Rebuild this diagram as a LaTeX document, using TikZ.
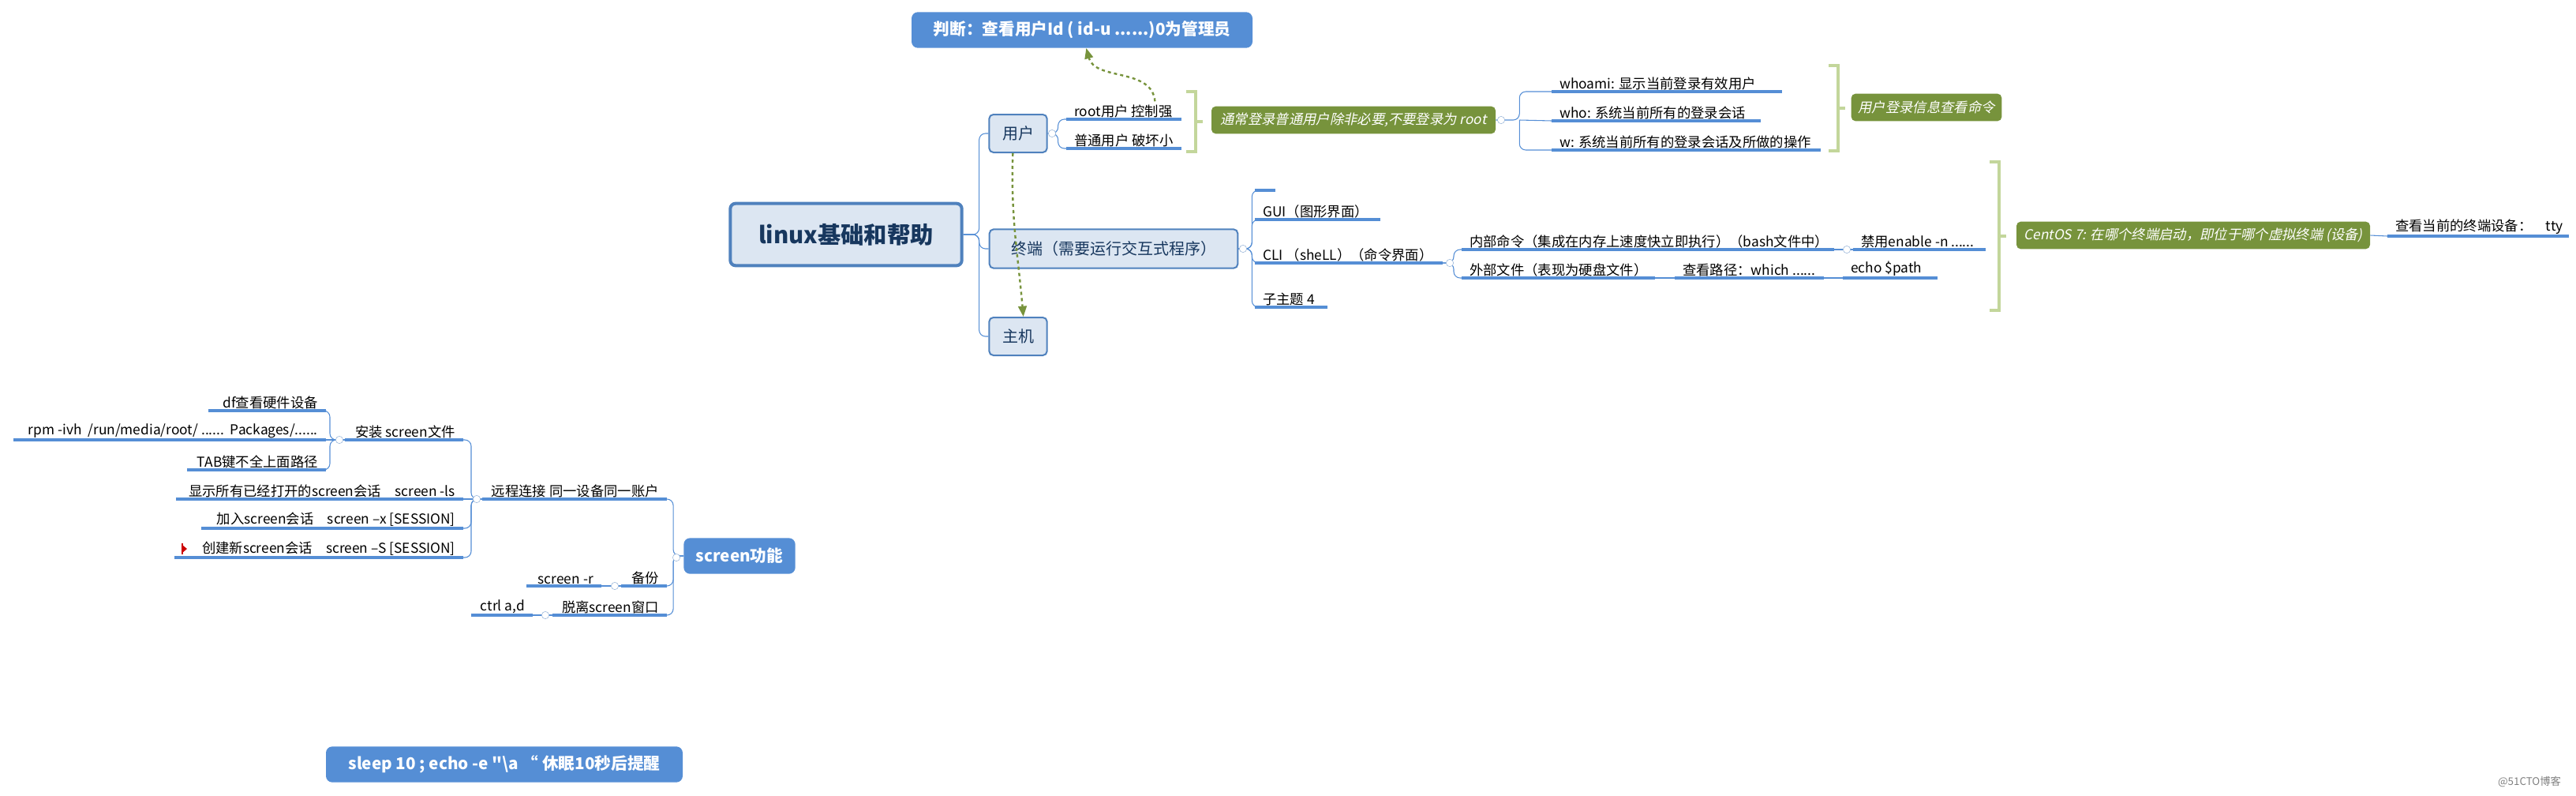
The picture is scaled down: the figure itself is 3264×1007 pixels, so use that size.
\documentclass[tikz,border=0pt]{standalone}
\usepackage{fontspec}
\setmainfont{Noto Sans CJK SC}
\newfontfamily\slantfont[FakeSlant=0.2]{Noto Sans CJK SC}
\newfontfamily\rawfont{Noto Sans CJK SC}
\usetikzlibrary{arrows.meta}
\definecolor{lineblue}{HTML}{558ED5}
\definecolor{boxfill}{HTML}{DCE6F2}
\definecolor{boxline}{HTML}{4F81BD}
\definecolor{olive}{HTML}{77933C}
\definecolor{bracegreen}{HTML}{C3D69B}
\definecolor{titleblue}{HTML}{17375E}

\tikzset{
  topic/.style={inner sep=3pt,font=\fontsize{13}{15}\selectfont},
  uline/.style={lineblue,line width=2.6pt},
  conn/.style={lineblue,line width=0.8pt,rounded corners=6pt},
  mainbox/.style={draw=boxline,fill=boxfill,line width=3pt,rounded corners=5pt,
    text=titleblue,font=\fontsize{22}{24}\selectfont\bfseries},
  catbox/.style={draw=boxline,fill=boxfill,line width=1.5pt,rounded corners=4pt,
    text=titleblue,font=\fontsize{15}{17}\selectfont},
  headbox/.style={fill=lineblue,rounded corners=6pt,text=white,
    font=\fontsize{15.5}{18}\selectfont\bfseries},
  notebox/.style={fill=olive,rounded corners=4pt,text=white,
    font=\fontsize{13}{15}\selectfont\slantfont},
  brak/.style={bracegreen,line width=3pt},
  rel/.style={olive,line width=1.8pt,dashed,-{Triangle[length=10pt,width=8pt]}},
  fold/.style={draw=boxline!60,fill=white,circle,inner sep=0pt,minimum size=7pt}
}

% topic growing to the right / to the left: name, x1, x2, y of line, text
\newcommand{\rtopic}[5]{%
  \node[topic,anchor=south west] (#1) at (#2+6,#4+2) {#5};
  \coordinate (#1-l) at (#2,#4);
  \coordinate (#1-r) at (#3,#4);
  \draw[uline] (#1-l) -- (#1-r);}
\newcommand{\ltopic}[5]{%
  \node[topic,anchor=south east] (#1) at (#3-6,#4+2) {#5};
  \coordinate (#1-l) at (#2,#4);
  \coordinate (#1-r) at (#3,#4);
  \draw[uline] (#1-l) -- (#1-r);}
\newcommand{\brackt}[3]{% x, y1, y2
  \draw[brak] (#1-12,#2) -- (#1,#2) -- (#1,#3) -- (#1-12,#3);
  \draw[brak] (#1,#2/2+#3/2) -- ++(9,0);}

\begin{document}
\begin{tikzpicture}[x=0.75pt,y=-0.75pt]
\useasboundingbox (0,0) rectangle (3264,1007);

% main boxes
\node[mainbox,minimum width=220pt,minimum height=59pt] (root) at (1072,297) {linux基础和帮助};
\node[catbox,minimum width=55pt,minimum height=36pt] (user) at (1290,169) {用户};
\node[catbox,minimum width=236pt,minimum height=37pt] (term) at (1411,315) {终端（需要运行交互式程序）};
\node[catbox,minimum width=55pt,minimum height=36pt] (host) at (1290,426) {主机};
\node[headbox,minimum width=324pt,minimum height=34pt] (judge) at (1371,38) {判断：查看用户Id ( id-u ......)0为管理员};
\node[headbox,minimum width=106pt,minimum height=34pt] (screen) at (937,704) {screen功能};
\node[headbox,minimum width=339pt,minimum height=34pt] (sleep) at (639,968) {sleep 10 ; echo -e {\rawfont\bfseries"}\textbackslash a “ 休眠10秒后提醒};

\draw[conn] (root.east) -- ++(20,0) |- (user.west);
\draw[conn] (root.east) -- ++(20,0) |- (term.west);
\draw[conn] (root.east) -- ++(20,0) |- (host.west);

% user
\rtopic{rootu}{1351}{1497}{151}{root用户 控制强}
\rtopic{normu}{1351}{1497}{188}{普通用户 破坏小}
\draw[conn] (user.east) -- ++(13,0) |- (rootu-l);
\draw[conn] (user.east) -- ++(13,0) |- (normu-l);
\brackt{1515}{116}{192}
\node[notebox,minimum width=270pt,minimum height=26pt] (usual) at (1715,152) {通常登录普通用户除非必要,不要登录为 root};
\rtopic{whoami}{1966}{2258}{116}{whoami: 显示当前登录有效用户}
\rtopic{who}{1966}{2231}{153}{who: 系统当前所有的登录会话}
\rtopic{wcmd}{1966}{2307}{190}{w: 系统当前所有的登录会话及所做的操作}
\draw[conn] (usual.east) -- ++(30,0) coordinate (usualb) |- (whoami-l);
\draw[conn] (usualb) -- (who-l);
\draw[conn] (usualb) |- (wcmd-l);
\brackt{2329}{83}{191}
\node[notebox,minimum width=143pt,minimum height=26pt] (login) at (2441,136) {用户登录信息查看命令};

% terminal
\rtopic{blank}{1590}{1616}{241}{}
\rtopic{gui}{1590}{1749}{278}{GUI（图形界面）}
\rtopic{cli}{1590}{1828}{333}{CLI （sheLL）（命令界面）}
\rtopic{sub}{1590}{1682}{389}{子主题 4}
\draw[conn] (term.east) -- ++(17,0) |- (blank-l);
\draw[conn] (term.east) -- ++(17,0) |- (gui-l);
\draw[conn] (term.east) -- ++(17,0) |- (cli-l);
\draw[conn] (term.east) -- ++(17,0) |- (sub-l);
\rtopic{inner}{1852}{2324}{316}{内部命令（集成在内存上速度快立即执行）（bash文件中）}
\rtopic{ban}{2348}{2516}{316}{禁用enable -n ......}
\rtopic{outer}{1852}{2097}{352}{外部文件（表现为硬盘文件）}
\rtopic{which}{2122}{2311}{352}{查看路径：which ......}
\rtopic{echo}{2335}{2455}{352}{echo \$path}
\draw[conn] (cli-r) -- ++(14,0) |- (inner-l);
\draw[conn] (cli-r) -- ++(14,0) |- (outer-l);
\draw[conn] (inner-r) -- (ban-l);
\draw[conn] (outer-r) -- (which-l);
\draw[conn] (which-r) -- (echo-l);
\brackt{2533}{205}{393}
\node[notebox,minimum width=336pt,minimum height=26pt] (centos) at (2779,298) {CentOS 7: 在哪个终端启动，即位于哪个虚拟终端 (设备)};
\rtopic{tty}{3025}{3255}{299}{查看当前的终端设备：\quad tty}
\draw[conn] (centos.east) -- (tty-l);

% screen
\ltopic{remote}{611}{845}{632}{远程连接 同一设备同一账户}
\ltopic{backup}{787}{845}{742}{备份}
\ltopic{detach}{700}{845}{779}{脱离screen窗口}
\draw[conn] (screen.west) -- ++(-13,0) |- (remote-r);
\draw[conn] (screen.west) -- ++(-13,0) |- (backup-r);
\draw[conn] (screen.west) -- ++(-13,0) |- (detach-r);
\ltopic{screenr}{667}{762}{742}{screen -r}
\ltopic{ctrlad}{597}{675}{779}{ctrl a,d}
\draw[conn] (backup-l) -- (screenr-r);
\draw[conn] (detach-l) -- (ctrlad-r);
\ltopic{install}{437}{587}{557}{安装 screen文件}
\ltopic{show}{223}{587}{632}{显示所有已经打开的screen会话\quad screen -ls}
\ltopic{join}{255}{587}{669}{加入screen会话\quad screen –x [SESSION]}
\ltopic{create}{221}{587}{706}{创建新screen会话\quad screen –S [SESSION]}
\fill[red!80!black] (231,690) -- (231,700) -- (237,695) -- cycle;
\draw[red!80!black,line width=1pt] (231,688) -- (231,702);
\draw[conn] (remote-l) -- ++(-14,0) |- (install-r);
\draw[conn] (remote-l) -- (show-r);
\draw[conn] (remote-l) -- ++(-14,0) |- (join-r);
\draw[conn] (remote-l) -- ++(-14,0) |- (create-r);
\ltopic{df}{264}{413}{520}{df查看硬件设备}
\ltopic{rpm}{17}{413}{557}{rpm -ivh\ \ /run/media/root/ ......\ \ Packages/......}
\ltopic{tab}{237}{413}{595}{TAB键不全上面路径}
\draw[conn] (install-l) -- ++(-19,0) |- (df-r);
\draw[conn] (install-l) -- (rpm-r);
\draw[conn] (install-l) -- ++(-19,0) |- (tab-r);

% fold markers
\foreach \px/\py in {1333/169,1902/152,1575/315,1837/333,2340/316,604/632,430/557,857/706,779/742,691/779}
  \node[fold] at (\px,\py) {};

% relations
\draw[rel] ([xshift=30pt]rootu.north) to[out=95,in=-75] ([xshift=4pt]judge.south);
\draw[rel] ([xshift=-5pt]user.south) to[out=-92,in=95] ([xshift=5pt]host.north);

\node[gray,font=\fontsize{10}{12}\selectfont] (mark) at (3205,990) {@51CTO博客};
\end{tikzpicture}
\end{document}
